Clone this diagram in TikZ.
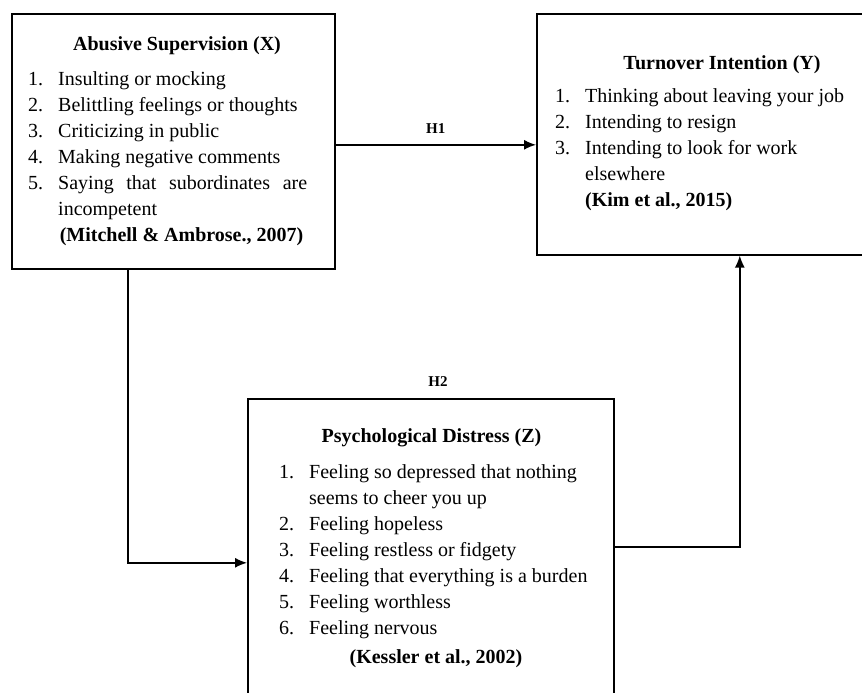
\documentclass[tikz,border=0pt]{standalone}
\usepackage{fontspec}
\setmainfont{Liberation Serif}
\usepackage{tikz}
\usetikzlibrary{arrows.meta,positioning}
\newcommand{\itm}[2]{\makebox[30pt][l]{#1}#2}

\begin{document}
\begin{tikzpicture}[x=1pt,y=-1pt,
		box/.style={draw,line width=1.6pt,inner sep=0pt,anchor=north west},
		head/.style={font=\fontsize{20}{26}\selectfont\bfseries,anchor=base,inner sep=0pt},
		items/.style={font=\fontsize{20}{26}\selectfont,align=left,anchor=north west,inner sep=0pt},
		hyp/.style={font=\fontsize{15}{18}\selectfont\bfseries},
		conn/.style={->,line width=1.4pt,>={Latex[length=12pt,width=10pt]}}]
	\useasboundingbox (0,0) rectangle (862,693);
	% the three boxes
	\node[box,minimum width=323,minimum height=255] (sup) at (11,13) {};
	\node[box,minimum width=340,minimum height=241] (turn) at (536,13) {};
	\node[box,minimum width=366,minimum height=310] (dist) at (247,398) {};
	% abusive supervision
	\node[head] (suphead) at (177,51) {Abusive Supervision (X)};
	\node[items] (supitems) at (28,71) {\itm{1.}{Insulting or mocking}\\
		\itm{2.}{Belittling feelings or thoughts}\\
		\itm{3.}{Criticizing in public}\\
		\itm{4.}{Making negative comments}\\
		\itm{5.}{\makebox[249pt][s]{Saying that subordinates are}}\\
		\hspace*{30pt}incompetent};
	\node[head] (supref) at (181.5,241) {(Mitchell \& Ambrose., 2007)};
	% turnover intention
	\node[head] (turnhead) at (722,70) {Turnover Intention (Y)};
	\node[items] (turnitems) at (555,88) {\itm{1.}{Thinking about leaving your job}\\
		\itm{2.}{Intending to resign}\\
		\itm{3.}{Intending to look for work}\\
		\hspace*{30pt}elsewhere\\
		\hspace*{30pt}\textbf{(Kim et al., 2015)}};
	% psychological distress
	\node[head] (disthead) at (431.5,442) {Psychological Distress (Z)};
	\node[items] (distitems) at (279,464) {\itm{1.}{Feeling so depressed that nothing}\\
		\hspace*{30pt}seems to cheer you up\\
		\itm{2.}{Feeling hopeless}\\
		\itm{3.}{Feeling restless or fidgety}\\
		\itm{4.}{Feeling that everything is a burden}\\
		\itm{5.}{Feeling worthless}\\
		\itm{6.}{Feeling nervous}};
	\node[head] (distref) at (436,663) {(Kessler et al., 2002)};
	% paths
	\draw[conn] ([yshift=-3.5pt]sup.east) -- ([yshift=-3.5pt]sup.east -| turn.west)
		node[hyp,midway,above=7pt] (h1) {H1};
	\draw[conn] ([xshift=-45.5pt]sup.south) |- ([yshift=-9pt]dist.west);
	\draw[conn] ([yshift=7pt]dist.east) -| ([xshift=33pt]turn.south);
	\node[hyp] (h2) at (438,382) {H2};
\end{tikzpicture}
\end{document}
